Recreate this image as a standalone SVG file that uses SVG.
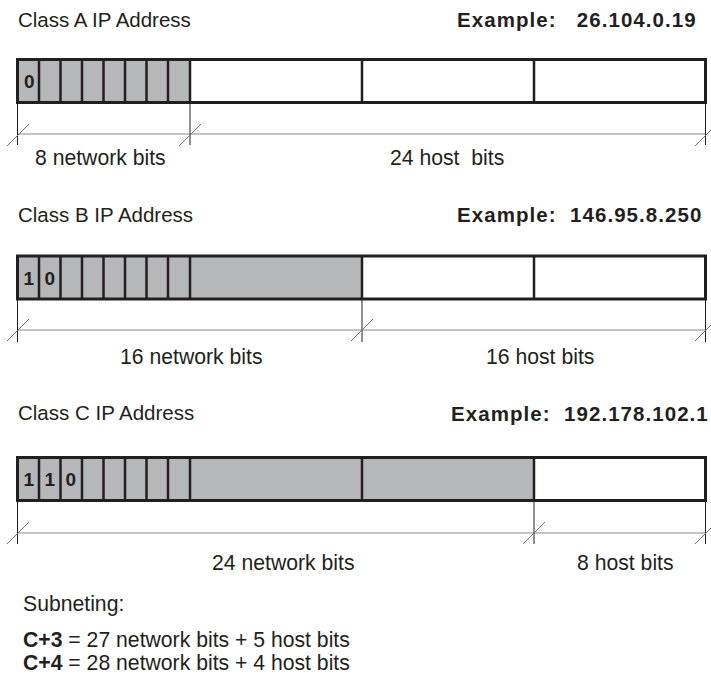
<svg xmlns="http://www.w3.org/2000/svg" width="711" height="681" viewBox="0 0 711 681">
<style>
text{font-family:"Liberation Sans",Arial,sans-serif;fill:#231f20;white-space:pre}
.title{font-size:20.5px}
.ex{font-size:20.5px;font-weight:bold;letter-spacing:1.05px}
.lbl{font-size:21.2px}
.bit{font-size:19px;font-weight:bold}
.g{fill:#b6b7b9}
.w{fill:#ffffff}
.cell{stroke:#231f20;stroke-width:2.5}
.frame{fill:none;stroke:#231f20;stroke-width:3}
.dim{stroke:#8a8a8a;stroke-width:1.2;fill:none}
.tick{stroke:#231f20;stroke-width:1;fill:none}
.sl{stroke:#777;stroke-width:1;fill:none}
</style>
<defs>
<g id="cells8">
<rect x="17.5" y="0" width="172.5" height="43" class="g"/>
<path class="cell" d="M39 0V43M60.5 0V43M82 0V43M103.5 0V43M125 0V43M146.5 0V43M168 0V43M190 0V43"/>
</g>
</defs>

<g id="classA">
<text class="title" x="18" y="27">Class A IP Address</text>
<text class="ex" x="457" y="27">Example:   26.104.0.19</text>
<g transform="translate(0,59.5)">
<rect x="190" y="0" width="515.5" height="43" class="w"/>
<use href="#cells8"/>
<path class="cell" d="M362 0V43M534 0V43"/>
<rect x="17.5" y="0" width="688" height="43" class="frame"/>
<text class="bit" x="24" y="28.5">0</text>
</g>
</g>

<g id="classB">
<text class="title" x="18" y="222">Class B IP Address</text>
<text class="ex" x="457" y="222">Example:  146.95.8.250</text>
<g transform="translate(0,256)">
<rect x="190" y="0" width="515.5" height="43" class="w"/>
<rect x="190" y="0" width="172" height="43" class="g"/>
<use href="#cells8"/>
<path class="cell" d="M362 0V43M534 0V43"/>
<rect x="17.5" y="0" width="688" height="43" class="frame"/>
<text class="bit" x="23.5" y="28.5">1</text>
<text class="bit" x="44.5" y="28.5">0</text>
</g>
</g>

<g id="classC">
<text class="title" x="18" y="420">Class C IP Address</text>
<text class="ex" x="451" y="421">Example:  192.178.102.1</text>
<g transform="translate(0,457.5)">
<rect x="190" y="0" width="515.5" height="43" class="w"/>
<rect x="190" y="0" width="344" height="43" class="g"/>
<use href="#cells8"/>
<path class="cell" d="M362 0V43M534 0V43"/>
<rect x="17.5" y="0" width="688" height="43" class="frame"/>
<text class="bit" x="23.5" y="28.5">1</text>
<text class="bit" x="44.5" y="28.5">1</text>
<text class="bit" x="65.5" y="28.5">0</text>
</g>
</g>

<g id="connectors">
<path class="dim" d="M17.5 134H705.5"/>
<path class="tick" d="M17.5 103V145M190 103V145M705.5 103V145"/>
<path class="sl" d="M7 146L29 124M179 146L201 124M695 146L717 124"/>
<path class="dim" d="M17.5 330H705.5"/>
<path class="tick" d="M17.5 300V342M362 300V342M705.5 300V342"/>
<path class="sl" d="M7 341L29 319M351 341L373 319M695 341L717 319"/>
<path class="dim" d="M17.5 533H705.5"/>
<path class="tick" d="M17.5 502V544M534 502V544M705.5 502V544"/>
<path class="sl" d="M7 544L29 522M523 544L545 522M695 544L717 522"/>
</g>

<g id="labels">
<text class="lbl" x="35" y="165">8 network bits</text>
<text class="lbl" x="390" y="165">24 host  bits</text>
<text class="lbl" x="120" y="364">16 network bits</text>
<text class="lbl" x="486" y="364">16 host bits</text>
<text class="lbl" x="212" y="570">24 network bits</text>
<text class="lbl" x="577" y="570">8 host bits</text>
</g>

<g id="subnet">
<text class="lbl" x="23" y="611">Subneting:</text>
<text class="lbl" x="23" y="647"><tspan font-weight="bold">C+3</tspan> = 27 network bits + 5 host bits</text>
<text class="lbl" x="23" y="670"><tspan font-weight="bold">C+4</tspan> = 28 network bits + 4 host bits</text>
</g>
</svg>
